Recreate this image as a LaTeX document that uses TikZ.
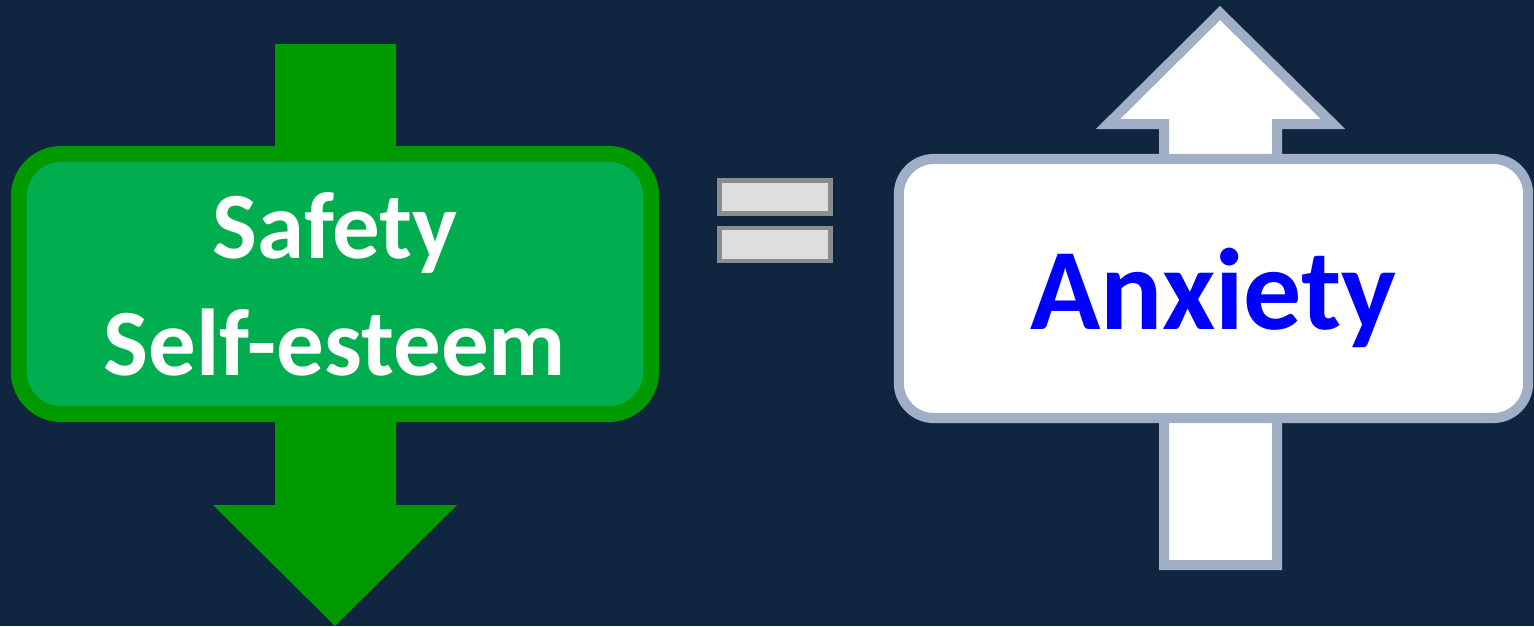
\documentclass[tikz,border=0pt]{standalone}
\usepackage{fontspec}
\setmainfont{Carlito}
\usepackage{tikz}
\usetikzlibrary{positioning}
\usepackage{xcolor}
\definecolor{navy}{RGB}{16,37,64}
\definecolor{darkgrn}{RGB}{0,153,0}
\definecolor{lightgrn}{RGB}{0,174,80}
\definecolor{slate}{RGB}{160,174,198}
\definecolor{eqgray}{RGB}{140,140,140}
\definecolor{eqfill}{RGB}{222,222,222}
\tikzset{
  goodbox/.style ={draw=darkgrn, fill=lightgrn, rounded corners=12pt,
                   line width=4.5pt, minimum width=6.32cm,
                   minimum height=2.60cm, inner sep=0pt, align=center,
                   text=white, font=\bfseries\fontsize{27}{33.3}\selectfont},
  badbox/.style  ={draw=slate, fill=white, rounded corners=10pt,
                   line width=2.85pt, minimum width=6.29cm,
                   minimum height=2.59cm, inner sep=0pt, text depth=0pt,
                   text=blue, font=\bfseries\fontsize{33}{40}\selectfont},
  eqbar/.style   ={draw=eqgray, fill=eqfill, line width=1.4pt,
                   minimum width=1.11cm, minimum height=0.33cm,
                   inner sep=0pt},
  downarr/.style ={fill=darkgrn},
  uparr/.style   ={draw=slate, fill=white, line width=2.85pt},
}

\begin{document}
\begin{tikzpicture}[x=0.01cm, y=-0.01cm]
  % canvas
  \fill[navy] (0,0) rectangle (1534,626);
  \useasboundingbox (0,0) rectangle (1534,626);
  % left: green arrow, pointing down
  \fill[downarr] (275,44) -- (396,44) -- (396,505) -- (457,505)
    -- (335,626) -- (213,505) -- (275,505) -- cycle;
  \node[goodbox] (safe) at (335,284) {Safety\\Self-esteem};
  % middle: equals
  \node[eqbar] (eqtop) at (775,197) {};
  \node[eqbar] (eqbot) at (775,244.5) {};
  % right: white arrow, pointing up
  \draw[uparr] (1164,565) -- (1164,124) -- (1108,124) -- (1220,13)
    -- (1333,124) -- (1277,124) -- (1277,565) -- cycle;
  \node[badbox] (anx) at (1213.5,288.5) {Anxiety};
\end{tikzpicture}
\end{document}
